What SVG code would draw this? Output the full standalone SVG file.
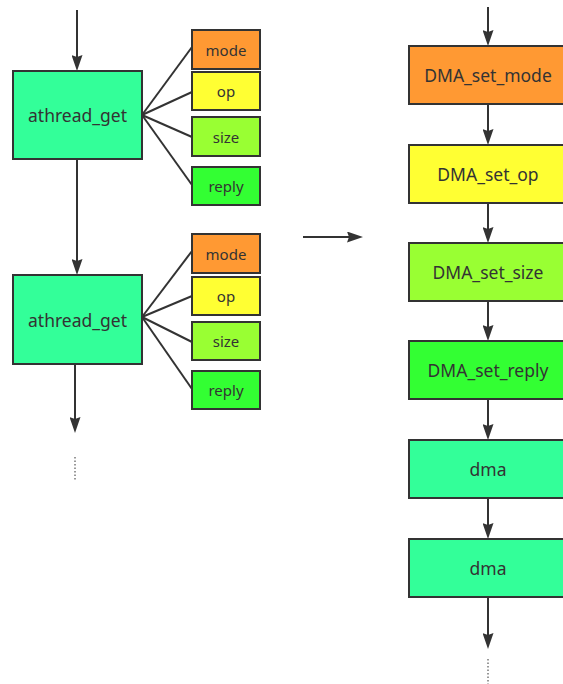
<svg xmlns="http://www.w3.org/2000/svg" width="563" height="684" viewBox="0 0 563 684">
<style>
.box{stroke:#333;stroke-width:2}
.main{fill:#33FF99}
.mode{fill:#FF9933}
.op{fill:#FFFF33}
.size{fill:#99FF33}
.reply{fill:#33FF33}
text{font-family:"Noto Sans","Open Sans","Liberation Sans",sans-serif;fill:#333;text-anchor:middle;dominant-baseline:central}
.big{font-size:17.5px}
.small{font-size:15px}
.ln{stroke:#333;stroke-width:2;fill:none}
.dot{stroke:#333;stroke-width:1;stroke-dasharray:1.5 2;fill:none}
</style>
<defs>
<marker id="ah" markerWidth="16" markerHeight="11" refX="13" refY="5.5" orient="auto" markerUnits="userSpaceOnUse" viewBox="0 0 16 11">
<path d="M0,0 L16,5.5 L0,11 L2,5.5 z" fill="#333"/>
</marker>
</defs>
<g id="connectors">
<line class="ln" x1="77" y1="10" x2="77" y2="68" marker-end="url(#ah)"/>
<line class="ln" x1="77" y1="159" x2="77" y2="272" marker-end="url(#ah)"/>
<line class="ln" x1="75" y1="364" x2="75" y2="430" marker-end="url(#ah)"/>
<line class="dot" x1="75" y1="457" x2="75" y2="481"/>
<line class="ln" x1="142" y1="115" x2="192" y2="47"/>
<line class="ln" x1="142" y1="115" x2="192" y2="92"/>
<line class="ln" x1="142" y1="115" x2="192" y2="137"/>
<line class="ln" x1="142" y1="115" x2="192" y2="185"/>
<line class="ln" x1="142" y1="317" x2="192" y2="251"/>
<line class="ln" x1="142" y1="317" x2="192" y2="296"/>
<line class="ln" x1="142" y1="317" x2="192" y2="342"/>
<line class="ln" x1="142" y1="317" x2="192" y2="389"/>
<line class="ln" x1="303" y1="237" x2="360" y2="237" marker-end="url(#ah)"/>
<line class="ln" x1="488" y1="7" x2="488" y2="43" marker-end="url(#ah)"/>
<line class="ln" x1="488" y1="104" x2="488" y2="142" marker-end="url(#ah)"/>
<line class="ln" x1="488" y1="203" x2="488" y2="240" marker-end="url(#ah)"/>
<line class="ln" x1="488" y1="301" x2="488" y2="338" marker-end="url(#ah)"/>
<line class="ln" x1="488" y1="399" x2="488" y2="437" marker-end="url(#ah)"/>
<line class="ln" x1="488" y1="498" x2="488" y2="536" marker-end="url(#ah)"/>
<line class="ln" x1="488" y1="597" x2="488" y2="646" marker-end="url(#ah)"/>
<line class="dot" x1="488" y1="659" x2="488" y2="684"/>
</g>
<g id="athread1"><rect class="box main" x="13" y="71" width="129" height="88"/><text class="big" x="77.5" y="115">athread_get</text></g>
<g id="mode1"><rect class="box mode" x="192" y="30" width="68" height="39"/><text class="small" x="226" y="49.5">mode</text></g>
<g id="op1"><rect class="box op" x="192" y="72" width="68" height="38"/><text class="small" x="226" y="91">op</text></g>
<g id="size1"><rect class="box size" x="192" y="117" width="68" height="39"/><text class="small" x="226" y="136.5">size</text></g>
<g id="reply1"><rect class="box reply" x="192" y="167" width="68" height="38"/><text class="small" x="226" y="186">reply</text></g>
<g id="athread2"><rect class="box main" x="13" y="275" width="129" height="89"/><text class="big" x="77.5" y="320">athread_get</text></g>
<g id="mode2"><rect class="box mode" x="192" y="234" width="68" height="39"/><text class="small" x="226" y="253.5">mode</text></g>
<g id="op2"><rect class="box op" x="192" y="277" width="68" height="38"/><text class="small" x="226" y="296">op</text></g>
<g id="size2"><rect class="box size" x="192" y="322" width="68" height="38"/><text class="small" x="226" y="341">size</text></g>
<g id="reply2"><rect class="box reply" x="192" y="371" width="68" height="38"/><text class="small" x="226" y="390">reply</text></g>
<g id="dma_set_mode"><rect class="box mode" x="409" y="46" width="158" height="58"/><text class="big" x="488" y="75">DMA_set_mode</text></g>
<g id="dma_set_op"><rect class="box op" x="409" y="145" width="158" height="58"/><text class="big" x="488" y="174">DMA_set_op</text></g>
<g id="dma_set_size"><rect class="box size" x="409" y="243" width="158" height="58"/><text class="big" x="488" y="272">DMA_set_size</text></g>
<g id="dma_set_reply"><rect class="box reply" x="409" y="341" width="158" height="58"/><text class="big" x="488" y="370">DMA_set_reply</text></g>
<g id="dma1"><rect class="box main" x="409" y="440" width="158" height="58"/><text class="big" x="488" y="469">dma</text></g>
<g id="dma2"><rect class="box main" x="409" y="539" width="158" height="58"/><text class="big" x="488" y="568">dma</text></g>
</svg>
